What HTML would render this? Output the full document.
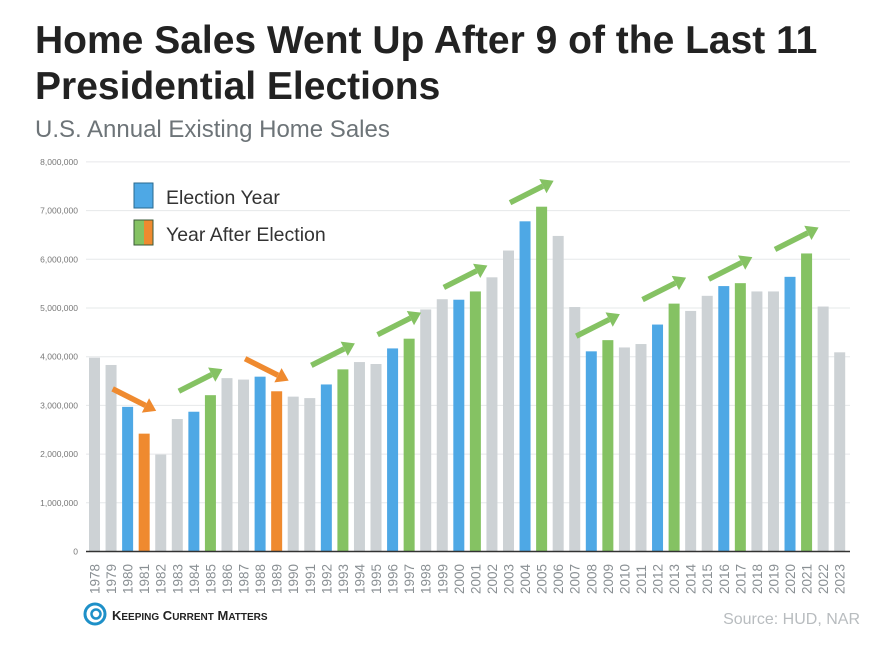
<!DOCTYPE html>
<html><head><meta charset="utf-8"><style>
body{margin:0;background:#fff;width:894px;height:642px;overflow:hidden;font-family:"Liberation Sans",sans-serif}
</style></head><body>
<svg width="894" height="642" xmlns="http://www.w3.org/2000/svg" style="font-family:'Liberation Sans',sans-serif">
<text x="35" y="53" font-size="39" font-weight="bold" fill="#222">Home Sales Went Up After 9 of the Last 11</text>
<text x="35" y="99" font-size="39" font-weight="bold" fill="#222">Presidential Elections</text>
<text x="35" y="137" font-size="24" fill="#6d7478">U.S. Annual Existing Home Sales</text>
<g id="grid"></g>
<g id="bars"></g>
<g id="arrows"></g>
<g id="xlabels"></g>
<rect x="134" y="183" width="19" height="25" fill="#4ea8e5" stroke="#2a6a8f" stroke-width="1"/>
<text x="166" y="204" font-size="19.5" fill="#333">Election Year</text>
<rect x="134" y="220" width="10" height="25" fill="#85c263"/>
<rect x="144" y="220" width="9" height="25" fill="#ef8a2f"/>
<rect x="134" y="220" width="19" height="25" fill="none" stroke="#3a5a3a" stroke-width="1"/>
<text x="166" y="241" font-size="19.5" fill="#333">Year After Election</text>
<g>
<circle cx="95" cy="614" r="10" fill="none" stroke="#1e90c8" stroke-width="3"/>
<circle cx="96" cy="614" r="4.5" fill="none" stroke="#1e90c8" stroke-width="2.5"/>
<text x="112" y="620" font-size="13" font-weight="bold" fill="#222">K<tspan font-size="10">EEPING</tspan> C<tspan font-size="10">URRENT</tspan> M<tspan font-size="10">ATTERS</tspan></text>
</g>
<text x="860" y="624" font-size="16" fill="#b8bcbf" text-anchor="end">Source: HUD, NAR</text>
</svg>
<script>
const years=[1978,1979,1980,1981,1982,1983,1984,1985,1986,1987,1988,1989,1990,1991,1992,1993,1994,1995,1996,1997,1998,1999,2000,2001,2002,2003,2004,2005,2006,2007,2008,2009,2010,2011,2012,2013,2014,2015,2016,2017,2018,2019,2020,2021,2022,2023];
const sales=[3.98,3.83,2.97,2.42,1.99,2.72,2.87,3.21,3.56,3.53,3.59,3.29,3.18,3.15,3.43,3.74,3.89,3.85,4.17,4.37,4.97,5.18,5.17,5.34,5.63,6.18,6.78,7.08,6.48,5.02,4.11,4.34,4.19,4.26,4.66,5.09,4.94,5.25,5.45,5.51,5.34,5.34,5.64,6.12,5.03,4.09];
const electionYears=[1980,1984,1988,1992,1996,2000,2004,2008,2012,2016,2020];
const downYears=[1981,1989];
const yTicks=[0,1,2,3,4,5,6,7,8];
const yTickLabels=["0","1,000,000","2,000,000","3,000,000","4,000,000","5,000,000","6,000,000","7,000,000","8,000,000"];
const NS="http://www.w3.org/2000/svg";
const y0=551.5,pxPerM=48.7,x0=94.5,step=16.56,bw=11;
function ys(v){return y0-v*pxPerM;}
function xs(i){return x0+i*step;}
function mk(t,a,p){const e=document.createElementNS(NS,t);for(const k in a)e.setAttribute(k,a[k]);p.appendChild(e);return e;}
const grid=document.getElementById('grid');
yTicks.forEach((v,i)=>{
 const l=mk('line',{x1:86,x2:850,y1:ys(v),y2:ys(v),stroke:'#e6e8ea','stroke-width':1},grid);
 
 
 const t=mk('text',{x:78,y:ys(v)+3,'font-size':8.5,fill:'#777','text-anchor':'end'},grid);
 t.textContent=yTickLabels[i];
 
 
});
const bars=document.getElementById('bars');
years.forEach((yr,i)=>{
 let c='#cdd2d5';
 if(electionYears.includes(yr))c='#4ea8e5';
 else if(downYears.includes(yr))c='#ef8a2f';
 else if(electionYears.includes(yr-1))c='#85c263';
 const r=mk('rect',{x:xs(i)-bw/2,y:ys(sales[i]),width:bw,height:sales[i]*pxPerM,fill:c},bars);
 
 
 const t=mk('text',{transform:`translate(${xs(i)+5},594) rotate(-90)`,'font-size':13.5,fill:'#8a9094'},document.getElementById('xlabels'));
 t.textContent=yr;
 
 
});
mk('line',{x1:86,x2:850,y1:y0,y2:y0,stroke:'#333','stroke-width':1.5},bars);
const arrows=document.getElementById('arrows');
electionYears.forEach(ey=>{
 const i=years.indexOf(ey);
 const down=downYears.includes(ey+1);
 const col=down?'#ef8a2f':'#85c263';
 const sx=xs(i)-15,ex=xs(i+1)+12;
 const sy=ys(Math.max(sales[i],sales[i+1]))-(down?18:4);
 const ey2=down?sy+22:sy-22;
 const g=mk('g',{},arrows);
 
 
 const ang=Math.atan2(ey2-sy,ex-sx);
 const bx=ex-12*Math.cos(ang),by=ey2-12*Math.sin(ang);
 mk('line',{x1:sx,y1:sy,x2:bx,y2:by,stroke:col,'stroke-width':5.5},g);
 const px=-Math.sin(ang),py=Math.cos(ang);
 mk('polygon',{points:`${ex},${ey2} ${bx+px*8},${by+py*8} ${bx-px*8},${by-py*8}`,fill:col},g);
});
</script>
</body></html>
